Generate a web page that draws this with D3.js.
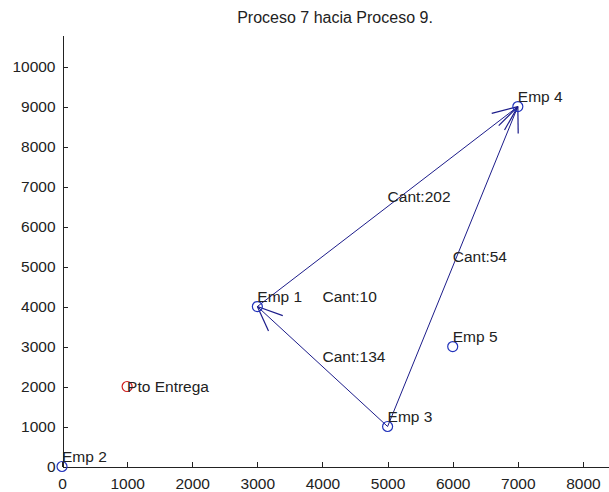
<!DOCTYPE html>
<html>
<head>
<meta charset="utf-8">
<script src="https://cdn.jsdelivr.net/npm/d3@7"></script>
<style>
  html, body { margin: 0; padding: 0; background: #fff; }
  svg { display: block; }
  text { font-family: "Liberation Sans", Arial, sans-serif; }
</style>
</head>
<body>
<div id="chart"></div>
<script>
// nodes of the plot (name, x, y)
var names  = ['Emp 1', 'Emp 2', 'Emp 3', 'Emp 4', 'Emp 5'];
var nodeX  = [3000, 0, 5000, 7000, 6000];
var nodeY  = [4000, 0, 1000, 9000, 3000];

// delivery point
var entrega = {label : 'Pto Entrega', x : 1000, y : 2000};

// routes: from index -> to index, with quantity
var routeFrom = [0, 2, 2];
var routeTo   = [3, 3, 0];
var routeCant = [202, 54, 134];

// stray quantity label with no line
var extraCant = [{label : 'Cant:10', x : 4000, y : 4000}];

var xTicks = [0, 1000, 2000, 3000, 4000, 5000, 6000, 7000, 8000];
var yTicks = [0, 1000, 2000, 3000, 4000, 5000, 6000, 7000, 8000, 9000, 10000];

var W = 609, H = 492;
var lift = 250;   // labels sit a bit above their point
var fs = '15.5px';

var x = d3.scaleLinear().domain([0, 8400]).range([62, 609]);
var y = d3.scaleLinear().domain([0, 10790]).range([466.5, 35]);

var svg = d3.select('#chart').append('svg').attr('width', W).attr('height', H);

// title
svg.append('text')
   .attr('x', 335).attr('y', 23)
   .attr('text-anchor', 'middle')
   .style('font-size', '16px').style('fill', '#222')
   .text('Proceso 7 hacia Proceso 9.');

// axes
var gx = svg.append('g').attr('transform', 'translate(0,466.5)')
   .call(d3.axisBottom(x).tickValues(xTicks).tickFormat(d3.format('d'))
           .tickSizeInner(-5).tickSizeOuter(0).tickPadding(9));
var gy = svg.append('g').attr('transform', 'translate(62.5,0)')
   .call(d3.axisLeft(y).tickValues(yTicks).tickFormat(d3.format('d'))
           .tickSizeInner(-5).tickSizeOuter(0).tickPadding(7));
[gx, gy].forEach(function(g){
   g.selectAll('path, line').style('stroke', '#222').style('shape-rendering', 'crispEdges');
   g.selectAll('text').style('font-size', fs).style('fill', '#222')
     .style('font-family', '"Liberation Sans", Arial, sans-serif');
});
gx.selectAll('text').attr('dy', '0.9em');

// routes with arrow heads
var routes = routeFrom.map(function(f, i){
   return {x1 : nodeX[f], y1 : nodeY[f], x2 : nodeX[routeTo[i]], y2 : nodeY[routeTo[i]], cant : routeCant[i]};
});
var lineCol = '#1c1c8a';

svg.selectAll('.route')
   .data(routes)
   .enter()
   .append('line')
   .classed('route', true)
   .attr('x1', function(d){return x(d.x1);}).attr('y1', function(d){return y(d.y1);})
   .attr('x2', function(d){return x(d.x2);}).attr('y2', function(d){return y(d.y2);})
   .style('stroke', lineCol).style('stroke-width', 1);

var barbs = [];
routes.forEach(function(d){
   var px = x(d.x2), py = y(d.y2);
   var a = Math.atan2(y(d.y1) - py, x(d.x1) - px);
   [-0.4, 0.4].forEach(function(s){
      barbs.push({x1 : px, y1 : py, x2 : px + 27 * Math.cos(a + s), y2 : py + 27 * Math.sin(a + s)});
   });
});
svg.selectAll('.barb')
   .data(barbs)
   .enter()
   .append('line')
   .classed('barb', true)
   .attr('x1', function(d){return d.x1;}).attr('y1', function(d){return d.y1;})
   .attr('x2', function(d){return d.x2;}).attr('y2', function(d){return d.y2;})
   .style('stroke', lineCol).style('stroke-width', 1.2);

// quantity labels at midpoints
var cantLabels = routes.map(function(d){
   return {label : 'Cant:' + d.cant, x : (d.x1 + d.x2) / 2, y : (d.y1 + d.y2) / 2};
}).concat(extraCant);

svg.selectAll('.cant')
   .data(cantLabels)
   .enter()
   .append('text')
   .classed('cant', true)
   .attr('x', function(d){return x(d.x);})
   .attr('y', function(d){return y(d.y + lift);})
   .attr('dy', '0.35em')
   .style('font-size', fs).style('fill', '#222')
   .text(function(d){return d.label;});

// nodes
var nodes = names.map(function(n, i){return {label : n, x : nodeX[i], y : nodeY[i]};});

svg.selectAll('.node')
   .data(nodes)
   .enter()
   .append('circle')
   .classed('node', true)
   .attr('cx', function(d){return x(d.x);}).attr('cy', function(d){return y(d.y);}).attr('r', 5)
   .style('fill', 'none').style('stroke', '#2233bb').style('stroke-width', 1.2);

svg.selectAll('.nodeLabel')
   .data(nodes)
   .enter()
   .append('text')
   .classed('nodeLabel', true)
   .attr('x', function(d){return x(d.x);})
   .attr('y', function(d){return y(d.y + lift);})
   .attr('dy', '0.35em')
   .style('font-size', fs).style('fill', '#222')
   .text(function(d){return d.label;});

// delivery point
svg.append('circle')
   .attr('cx', x(entrega.x)).attr('cy', y(entrega.y)).attr('r', 5)
   .style('fill', 'none').style('stroke', '#d02020').style('stroke-width', 1.2);
svg.append('text')
   .attr('x', x(entrega.x)).attr('y', y(entrega.y))
   .attr('dy', '0.35em')
   .style('font-size', fs).style('fill', '#222')
   .text(entrega.label);
</script>
</body>
</html>
